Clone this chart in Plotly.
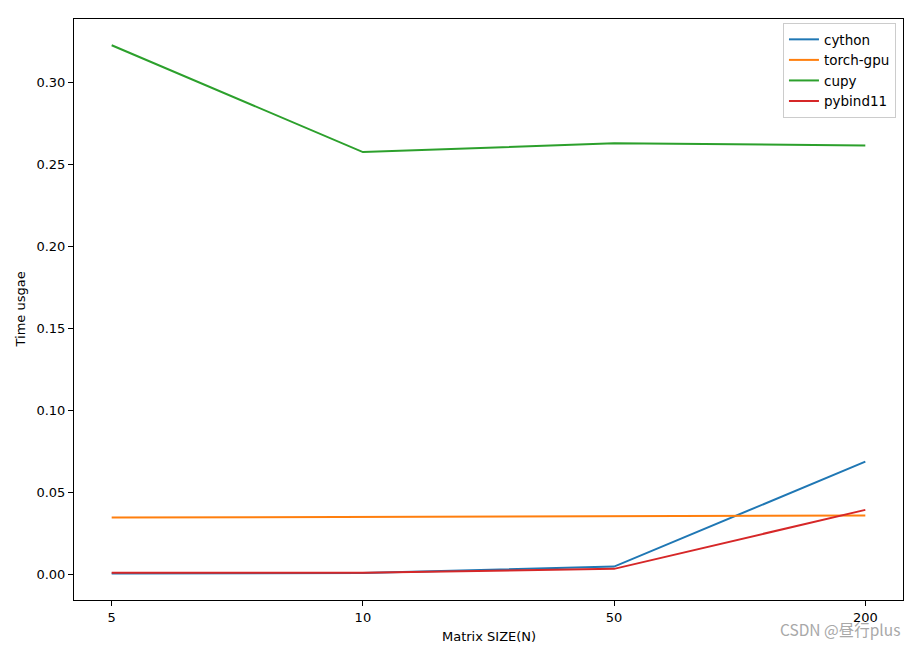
import plotly.graph_objects as go

sizes = ["5", "10", "50", "200"]
cython = [0.0006, 0.0009, 0.0049, 0.0689]
torch_gpu = [0.0348, 0.0353, 0.0359, 0.0360]
cupy = [0.3230, 0.2578, 0.2632, 0.2618]
pybind11 = [0.0012, 0.0011, 0.0035, 0.0395]

series = [
    ("cython", cython, "#1f77b4"),
    ("torch-gpu", torch_gpu, "#ff7f0e"),
    ("cupy", cupy, "#2ca02c"),
    ("pybind11", pybind11, "#d62728"),
]

fig = go.Figure()
for name, vals, color in series:
    fig.add_trace(go.Scatter(x=list(range(len(sizes))), y=vals, mode="lines", name=name,
                             line=dict(color=color, width=2)))

font = dict(family="DejaVu Sans", size=13, color="black")
PLOT_W, PLOT_H = 917 - 74 - 14, 645 - 19 - 45
fig.update_layout(
    width=917, height=645,
    margin=dict(l=74, r=14, t=19, b=45, autoexpand=False),
    plot_bgcolor="white", paper_bgcolor="white",
    font=font,
    showlegend=True,
    legend=dict(x=0.9915, y=0.993, xanchor="right", yanchor="top",
                bgcolor="rgba(255,255,255,0.8)", bordercolor="#cccccc", borderwidth=1,
                font=dict(family="DejaVu Sans", size=13.5), tracegroupgap=0, itemwidth=30),
    xaxis=dict(range=[-0.15, 3.15], tickvals=list(range(len(sizes))), ticktext=sizes,
               showgrid=False, zeroline=False, showline=True, linecolor="black", linewidth=1,
               mirror=True, ticks="outside", ticklen=5, tickcolor="black", automargin=False),
    yaxis=dict(range=[-0.0155, 0.339], dtick=0.05, tick0=0, tickformat=".2f",
               showgrid=False, zeroline=False, showline=True, linecolor="black", linewidth=1,
               mirror=True, ticks="outside", ticklen=5, tickcolor="black", automargin=False),
)
fig.add_annotation(text="Matrix SIZE(N)", xref="paper", yref="paper", x=0.5, y=-36 / PLOT_H,
                   xanchor="center", yanchor="middle", showarrow=False, font=font)
fig.add_annotation(text="Time usgae", xref="paper", yref="paper", x=-54 / PLOT_W, y=0.5,
                   xanchor="center", yanchor="middle", textangle=-90, showarrow=False, font=font)
fig.add_annotation(text="CSDN @昼行plus", xref="paper", yref="paper", x=1.0, y=-29 / PLOT_H,
                   xanchor="right", yanchor="middle", showarrow=False, xshift=-1,
                   font=dict(family="Noto Sans CJK SC", size=15.5, color="#a8a8a8"))
fig.write_html("out.html", config={"displayModeBar": False},
               post_script="document.body.style.margin='0';document.body.style.overflow='hidden';")
